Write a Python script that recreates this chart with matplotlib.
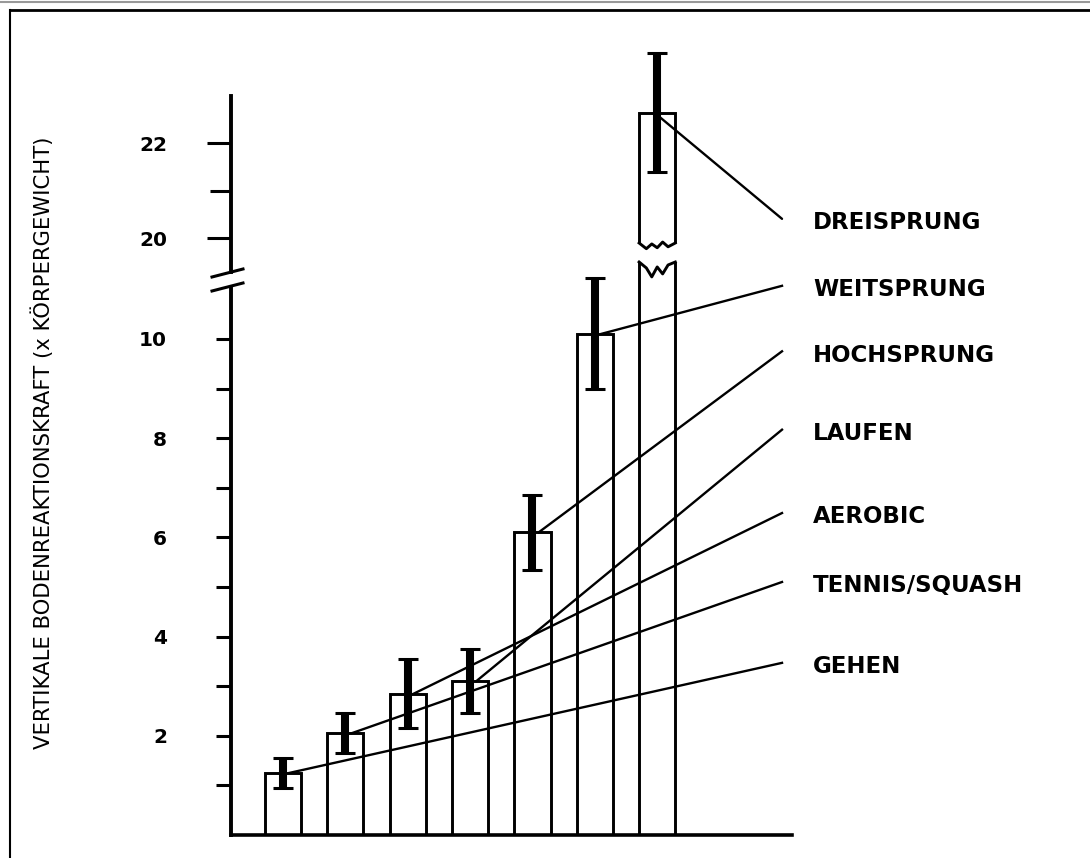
import numpy as np
import matplotlib
matplotlib.use("Agg")
import matplotlib.pyplot as plt
from matplotlib.lines import Line2D
from matplotlib.patches import ConnectionPatch

activities = ["GEHEN", "TENNIS/SQUASH", "AEROBIC", "LAUFEN",
              "HOCHSPRUNG", "WEITSPRUNG", "DREISPRUNG"]
force = [1.25, 2.05, 2.85, 3.1, 6.1, 10.1, 22.65]        # x body weight
force_err = [0.3, 0.4, 0.7, 0.65, 0.75, 1.12, 1.25]
y_label = "VERTIKALE BODENREAKTIONSKRAFT (x KÖRPERGEWICHT)"

# axis break: lower panel ends at LOW_TOP, upper panel starts at HIGH_BOTTOM
LOW_TOP = 11.55
HIGH_BOTTOM = 19.9

# right-hand labels, placed in lower-panel units
label_y = [3.47, 5.1, 6.49, 8.17, 9.75, 11.07, 12.42]
LINE_END_X = 8.0
LABEL_X = 8.5

W, H = 1090, 858
BAR_W = 0.58
LW = 2.1

fig = plt.figure(figsize=(W / 100, H / 100), dpi=100)
fig.patch.set_facecolor("white")

ax_lo = fig.add_axes([231 / W, 1 - 835 / H, (792 - 231) / W, (835 - 262) / H])
ax_hi = fig.add_axes([231 / W, 1 - 243 / H, (792 - 231) / W, (243 - 96) / H],
                     sharex=ax_lo)

x = np.arange(len(activities))
vals = np.array(force)
errs = np.array(force_err)
tall = vals > LOW_TOP

for ax in (ax_lo, ax_hi):
    ax.bar(x, vals, width=BAR_W, color="white", edgecolor="black",
           linewidth=LW, zorder=2)
    ax.set_facecolor("none")
    for s in ("top", "right"):
        ax.spines[s].set_visible(False)
    ax.spines["left"].set_linewidth(2.8)

ax_lo.set_xlim(-0.83, 8.16)
ax_lo.set_ylim(0, LOW_TOP)
ax_hi.set_ylim(HIGH_BOTTOM, 23.0)

# lower panel axes
ax_lo.spines["left"].set_bounds(0, 11.05)
ax_lo.spines["bottom"].set_linewidth(2.6)
ax_lo.set_xticks([])
ax_lo.set_yticks([2, 4, 6, 8, 10])
ax_lo.set_yticks([1, 3, 5, 7, 9], minor=True)
ax_lo.tick_params(axis="y", which="both", direction="out", length=11,
                  width=2.2, pad=35)

# upper panel axes
ax_hi.spines["bottom"].set_visible(False)
ax_hi.spines["left"].set_bounds(19.28, 23.0)
ax_hi.tick_params(axis="x", which="both", bottom=False, labelbottom=False)
ax_hi.set_yticks([20, 22])
ax_hi.set_yticks([21], minor=True)
ax_hi.tick_params(axis="y", which="major", direction="out", length=17,
                  width=2.2, pad=29)
ax_hi.tick_params(axis="y", which="minor", direction="out", length=15,
                  width=2.2)

for ax in (ax_lo, ax_hi):
    for lab in ax.get_yticklabels():
        lab.set_fontweight("bold")
        lab.set_fontsize(14.5)

# break marks on the y axis
for py in (273, 287):
    fig.add_artist(Line2D([212 / W, 243 / W], [1 - (py + 4) / H, 1 - (py - 4) / H],
                          color="black", lw=2.2, transform=fig.transFigure))

# error bars
eb = ax_lo.errorbar(x[~tall], vals[~tall], yerr=errs[~tall], fmt="none",
                    ecolor="black", elinewidth=5.8, capsize=7, capthick=2.2,
                    zorder=4)
eb_hi = ax_hi.errorbar(x[tall], vals[tall], yerr=errs[tall], fmt="none",
                       ecolor="black", elinewidth=5.8, capsize=7, capthick=2.2,
                       zorder=4)
for art in eb_hi.get_children():
    art.set_clip_on(False)

# torn edges of the broken bar
tear_x = np.array([-0.5, -0.3, -0.15, 0.0, 0.15, 0.3, 0.5]) * BAR_W
tear_lo = np.array([0, -0.12, -0.3, -0.1, -0.24, -0.06, 0])
tear_hi = np.array([0, -0.12, -0.02, -0.1, 0.02, -0.08, 0])
for xi in x[tall]:
    ax_lo.plot(xi + tear_x, LOW_TOP + tear_lo, color="black", lw=LW,
               clip_on=False, zorder=3)
    ax_hi.plot(xi + tear_x, HIGH_BOTTOM + tear_hi, color="black", lw=LW,
               clip_on=False, zorder=3)

# leader lines and activity names
for xi, v, ly, name in zip(x, vals, label_y, activities):
    if v > LOW_TOP:
        con = ConnectionPatch(xyA=(xi, v - 0.05), coordsA=ax_hi.transData,
                              xyB=(LINE_END_X, ly), coordsB=ax_lo.transData,
                              color="black", lw=1.7, zorder=5)
        fig.add_artist(con)
    else:
        ax_lo.plot([xi + 0.1, LINE_END_X], [v, ly], color="black", lw=1.7,
                   clip_on=False, zorder=5)
    ax_lo.text(LABEL_X, ly - 0.08, name, ha="left", va="center",
               fontsize=16.5, fontweight="bold", family="DejaVu Sans",
               clip_on=False)

# y axis title, sized to span the axis height
ylab = fig.text(43 / W, 1 - 443 / H, y_label, rotation=90, ha="center",
                va="center", fontsize=20,
                family=["Liberation Sans Narrow", "DejaVu Sans"])
fig.canvas.draw()
bb = ylab.get_window_extent()
ylab.set_fontsize(20 * 610 / bb.height)

# page frame
fig.add_artist(Line2D([0, 1], [1 - 1.5 / H] * 2, color="0.6", lw=1.5,
                      transform=fig.transFigure))
fig.add_artist(Line2D([10 / W, 1], [1 - 9.5 / H] * 2, color="black", lw=2,
                      transform=fig.transFigure))
fig.add_artist(Line2D([10 / W] * 2, [0, 1 - 9.5 / H], color="black", lw=1.5,
                      transform=fig.transFigure))

fig.savefig("out.png", dpi=100)
